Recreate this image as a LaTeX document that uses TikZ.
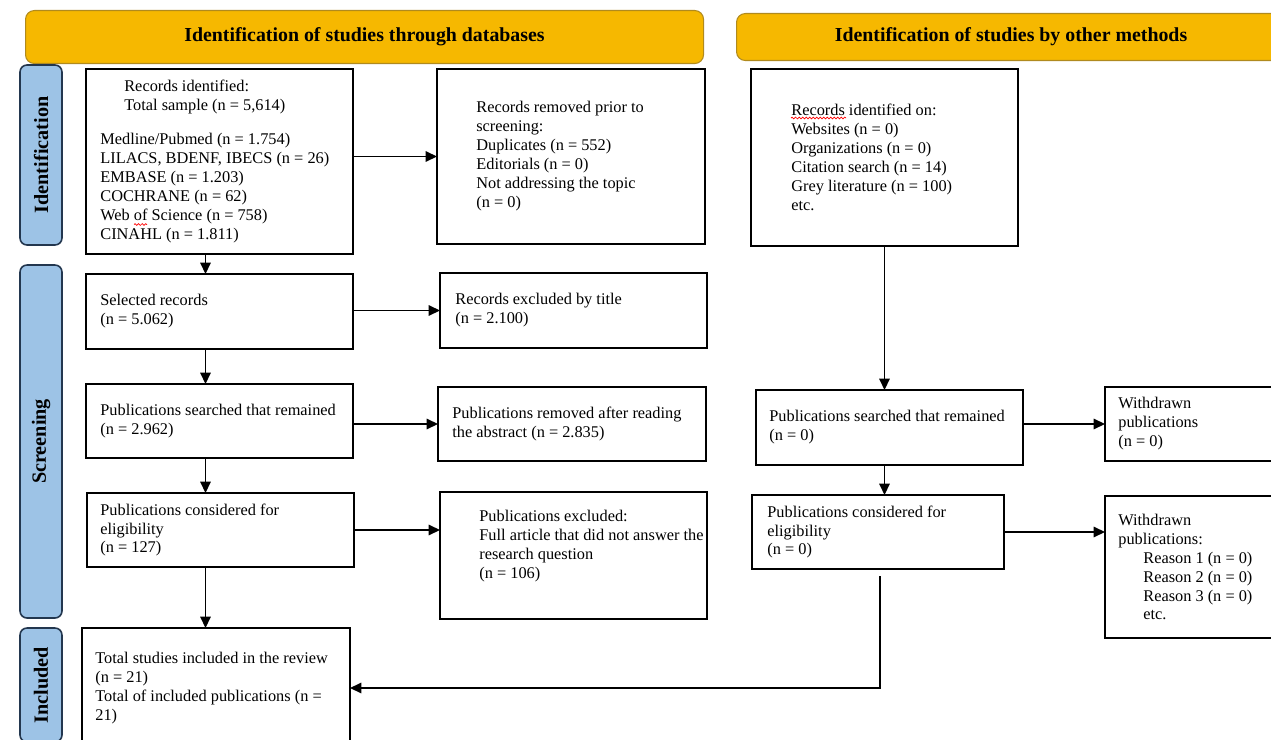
\documentclass[tikz,border=0pt]{standalone}
\usepackage{fontspec}
\setmainfont{Liberation Serif}
\usetikzlibrary{arrows.meta,positioning,decorations.pathmorphing}

\definecolor{headfill}{HTML}{F6B800}
\definecolor{headline}{HTML}{B08A1E}
\definecolor{sidefill}{HTML}{9DC3E6}
\definecolor{sideline}{HTML}{23374F}

\newcommand\px{0.02cm}

\tikzset{
  bx/.style 2 args={draw, line width=0.75pt, anchor=north west,
    inner sep=0pt, outer sep=0pt,
    minimum width=#1*\px, minimum height=#2*\px},
  txt/.style={anchor=west, align=left, inner sep=0pt,
    font=\fontsize{9.3}{10.8}\selectfont},
  head/.style 2 args={draw=headline, fill=headfill, line width=0.6pt,
    rounded corners=5pt, anchor=north west, inner sep=0pt,
    minimum width=#1*\px, minimum height=#2*\px,
    font=\bfseries\fontsize{11.3}{13}\selectfont},
  side/.style 2 args={draw=sideline, fill=sidefill, line width=0.9pt,
    rounded corners=4pt, rotate=90, inner sep=0pt,
    minimum width=#1*\px, minimum height=#2*\px,
    font=\bfseries\fontsize{11.5}{13}\selectfont},
  arr/.style={-{Triangle[length=6.5pt,width=6pt]}, line width=0.8pt},
  spell/.style={red, line width=0.4pt,
    decorate, decoration={snake, amplitude=0.5pt, segment length=2pt}}
}

\begin{document}
\begin{tikzpicture}[x=0.02cm, y=-0.02cm]
  \clip (0,0) rectangle (1271,740);
  % headers
  \node[head={678}{53}] (hdb) at (25,10) {Identification of studies through databases};
  \node[head={549}{47}] (hom) at (736,13) {Identification of studies by other methods};
  % stage labels
  \node[side={180}{42}] (sid) at (41,155) {Identification};
  \node[side={353}{42}] (ssc) at (41,441.5) {Screening};
  \node[side={114}{42}] (sin) at (41,685) {Included};
  % database column
  \node[bx={267}{185}] (A) at (86,69) {};
  \node[txt] (tA) at ([xshift=14*\px]A.west)
    {\hspace*{0.48cm}Records identified:\\
     \hspace*{0.48cm}Total sample (n = 5,614)\\[9pt]
     Medline/Pubmed (n = 1.754)\\
     LILACS, BDENF, IBECS (n = 26)\\
     EMBASE (n = 1.203)\\
     COCHRANE (n = 62)\\
     Web of Science (n = 758)\\
     CINAHL (n = 1.811)};
  \node[bx={268}{175}] (B) at (437,69) {};
  \node[txt] (tB) at ([xshift=39*\px]B.west)
    {Records removed prior to\\ screening:\\ Duplicates (n = 552)\\
     Editorials (n = 0)\\ Not addressing the topic\\ (n = 0)};
  \node[bx={267}{75}] (D) at (86,274) {};
  \node[txt] (tD) at ([xshift=14*\px]D.west) {Selected records\\ (n = 5.062)};
  \node[bx={267}{75}] (E) at (440,273) {};
  \node[txt] (tE) at ([xshift=15*\px]E.west) {Records excluded by title\\ (n = 2.100)};
  \node[bx={267}{74}] (F) at (86,384) {};
  \node[txt] (tF) at ([xshift=14*\px]F.west) {Publications searched that remained\\ (n = 2.962)};
  \node[bx={268}{74}] (G) at (438,387) {};
  \node[txt] (tG) at ([xshift=14*\px]G.west) {Publications removed after reading\\ the abstract (n = 2.835)};
  \node[bx={267}{74}] (H) at (87,493) {};
  \node[txt] (tH) at ([xshift=13*\px]H.west) {Publications considered for\\ eligibility\\ (n = 127)};
  \node[bx={267}{127}] (I) at (440,492) {};
  \node[txt] (tI) at ([xshift=39*\px,yshift=9*\px]I.west)
    {Publications excluded:\\ Full article that did not answer the\\ research question\\ (n = 106)};
  \node[bx={268}{120}] (J) at (82,628) {};
  \node[txt] (tJ) at ([xshift=13*\px]J.west)
    {Total studies included in the review\\ (n = 21)\\
     Total of included publications (n =\\ 21)};
  % other methods column
  \node[bx={267}{177}] (C) at (751,69) {};
  \node[txt] (tC) at ([xshift=40*\px]C.west)
    {Records identified on:\\ Websites (n = 0)\\ Organizations (n = 0)\\
     Citation search (n = 14)\\ Grey literature (n = 100)\\ etc.};
  \node[bx={267}{75}] (K) at (756,390) {};
  \node[txt] (tK) at ([xshift=13*\px]K.west) {Publications searched that remained\\ (n = 0)};
  \node[bx={190}{74}] (L) at (1105,387) {};
  \node[txt] (tL) at ([xshift=13*\px]L.west) {Withdrawn\\ publications\\ (n = 0)};
  \node[bx={252}{74}] (M) at (752,495) {};
  \node[txt] (tM) at ([xshift=15*\px]M.west) {Publications considered for\\ eligibility\\ (n = 0)};
  \node[bx={190}{142}] (N) at (1105,496) {};
  \node[txt] (tN) at ([xshift=13*\px]N.west)
    {Withdrawn\\ publications:\\
     \hspace*{0.5cm}Reason 1 (n = 0)\\ \hspace*{0.5cm}Reason 2 (n = 0)\\
     \hspace*{0.5cm}Reason 3 (n = 0)\\ \hspace*{0.5cm}etc.};
  % spell-check marks
  \draw[spell] (134,224.5) -- (147,224.5);
  \draw[spell] (791,118) -- (846,118);
  % connectors
  \draw[arr] (A.east |- B.west) -- (B.west);
  \draw[arr] (D.east |- E.west) -- (E.west);
  \draw[arr] (F.east |- G.west) -- (G.west);
  \draw[arr] (H.east) -- (H.east -| I.west);
  \draw[arr] ([xshift=-14*\px]A.south) -- ([xshift=-14*\px]A.south |- D.north);
  \draw[arr] ([xshift=-14*\px]D.south) -- ([xshift=-14*\px]D.south |- F.north);
  \draw[arr] ([xshift=-14*\px]F.south) -- ([xshift=-14*\px]F.south |- H.north);
  \draw[arr] ([xshift=-15*\px]H.south) -- ([xshift=-15*\px]H.south |- J.north);
  \draw[arr] (C.south) -- (C.south |- K.north);
  \draw[arr] (C.south |- K.south) -- (C.south |- M.north);
  \draw[arr] (K.east |- L.west) -- (L.west);
  \draw[arr] (M.east) -- (M.east -| N.west);
  \draw[arr, shorten <=7*\px] ([xshift=2*\px]M.south) -- ([xshift=2*\px]M.south |- J.east) -- (J.east);
\end{tikzpicture}
\end{document}
